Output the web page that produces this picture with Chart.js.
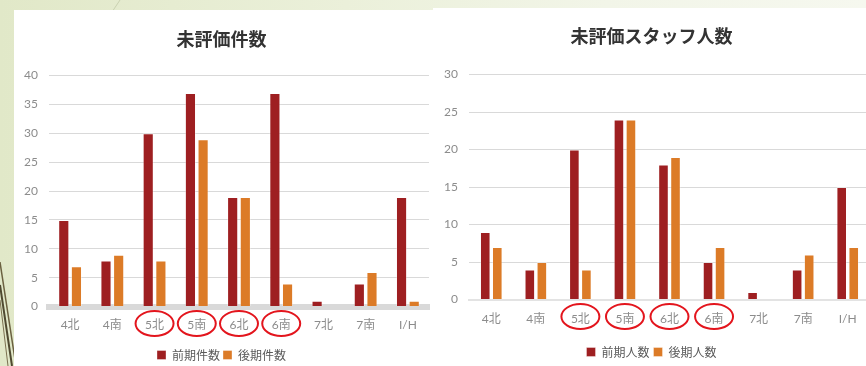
<!DOCTYPE html>
<html>
<head>
<meta charset="utf-8">
<script src="https://cdn.jsdelivr.net/npm/chart.js@4.4.1/dist/chart.umd.min.js"></script>
<style>
  html, body { margin: 0; padding: 0; }
  body {
    width: 866px; height: 366px; overflow: hidden; position: relative;
    background: linear-gradient(to right, #e1e8c8 0%, #ebf0da 40%, #f2f5e8 70%, #f6f8ef 100%);
  }
  .panel { position: absolute; background: #fff; }
  .wrap { position: absolute; }
  svg.deco { position: absolute; left: 0; top: 0; }
</style>
</head>
<body>
<svg class="deco" width="866" height="366">
  <line x1="0" y1="262" x2="16" y2="366" stroke="#6b6140" stroke-width="1.5"/>
  <line x1="0" y1="285" x2="12" y2="366" stroke="#4f4a30" stroke-width="2"/>
  <line x1="0" y1="300" x2="8" y2="366" stroke="#7a7050" stroke-width="1"/>
  <line x1="120" y1="0" x2="112" y2="12" stroke="#c9d1b0" stroke-width="1"/>
</svg>
<div class="panel" style="left:14px;top:10px;width:419px;height:356px"></div>
<div class="panel" style="left:433px;top:8px;width:433px;height:358px"></div>
<div class="wrap" style="left:14px;top:10px;width:434px;height:361px"><canvas id="countChart"></canvas></div>
<div class="wrap" style="left:433px;top:8px;width:454px;height:362px"><canvas id="staffChart"></canvas></div>
<script>
const wards = ['4北', '4南', '5北', '5南', '6北', '6南', '7北', '7南', 'I/H'];
const circled = ['5北', '5南', '6北', '6南'];

const countFirst = [15, 8, 30, 37, 19, 37, 1, 4, 19];
const countSecond = [7, 9, 8, 29, 19, 4, 0, 6, 1];
const countTicks = [0, 5, 10, 15, 20, 25, 30, 35, 40];

const staffFirst = [9, 4, 20, 24, 18, 5, 1, 4, 15];
const staffSecond = [7, 5, 4, 24, 19, 7, 0, 6, 7];
const staffTicks = [0, 5, 10, 15, 20, 25, 30];

const RED = '#9e1f21';
const ORANGE = '#dc7b27';
const FONT = "'Lato', 'Noto Sans CJK JP', sans-serif";
const JP = "'Noto Sans CJK JP', sans-serif";

// red hand-drawn style ellipses round some category labels
const circlePlugin = {
  id: 'circles',
  afterDraw(chart, args, opts) {
    const x = chart.scales.x;
    const c = chart.ctx;
    c.save();
    c.strokeStyle = '#e3151d';
    c.lineWidth = 2;
    circled.forEach(name => {
      const i = wards.indexOf(name);
      const px = x.getPixelForValue(i);
      c.beginPath();
      c.ellipse(px, x.top + opts.dy, opts.rx, opts.ry, 0, 0, Math.PI * 2);
      c.stroke();
    });
    c.restore();
  }
};

function makeChart(id, title, labels, first, second, ticks, cfg) {
  return new Chart(document.getElementById(id), {
    type: 'bar',
    data: {
      labels: wards,
      datasets: [
        { label: labels[0], data: first, backgroundColor: RED, borderColor: 'rgba(255,255,255,0.35)', borderWidth: 1,
          categoryPercentage: cfg.cat, barPercentage: 0.88 },
        { label: labels[1], data: second, backgroundColor: ORANGE, borderColor: 'rgba(255,255,255,0.35)', borderWidth: 1,
          categoryPercentage: cfg.cat, barPercentage: 0.88 }
      ]
    },
    options: {
      responsive: true,
      maintainAspectRatio: false,
      animation: false,
      layout: { padding: { left: 0, right: cfg.right, top: 0, bottom: cfg.bottom } },
      plugins: {
        title: {
          display: true, text: title, color: '#333333',
          font: { family: JP, size: 18, weight: 'bold' },
          padding: { top: cfg.titleTop, bottom: cfg.titleBottom }
        },
        legend: {
          position: 'bottom',
          labels: { color: '#595959', font: { family: JP, size: 12 }, boxWidth: 9, boxHeight: 9, padding: cfg.legendPad }
        },
        tooltip: { enabled: false },
        circles: { dy: cfg.circleY, rx: 19, ry: 12.5 }
      },
      scales: {
        x: {
          afterFit: s => { s.height += cfg.xExtra; },
          grid: { display: false },
          border: { display: true, color: cfg.floorColor, width: cfg.floor },
          ticks: { color: '#8c8c8c', font: { family: FONT, size: 12 }, padding: cfg.xPad }
        },
        y: {
          min: 0, max: ticks[ticks.length - 1],
          afterBuildTicks: s => { s.ticks = ticks.map(v => ({ value: v })); },
          afterFit: s => { s.width = cfg.yWidth; },
          grid: { color: '#d9d9d9', lineWidth: 1, drawTicks: false },
          border: { display: false },
          ticks: { color: '#8c8c8c', font: { family: FONT, size: 12 }, padding: 11 }
        }
      }
    },
    plugins: [circlePlugin]
  });
}

makeChart('countChart', '未評価件数', ['前期件数', '後期件数'], countFirst, countSecond, countTicks,
  { cat: 0.6, right: 19, bottom: 0, titleTop: 18, titleBottom: 26, floor: 6, floorColor: '#d9d9d9',
    xPad: 3, xExtra: 11, legendPad: 3, yWidth: 35, circleY: 17 });

makeChart('staffChart', '未評価スタッフ人数', ['前期人数', '後期人数'], staffFirst, staffSecond, staffTicks,
  { cat: 0.54, right: 17, bottom: 2, titleTop: 17, titleBottom: 28, floor: 2, floorColor: '#e3e3e3',
    xPad: 4, xExtra: 12, legendPad: 4, yWidth: 36, circleY: 17 });
</script>
</body>
</html>
